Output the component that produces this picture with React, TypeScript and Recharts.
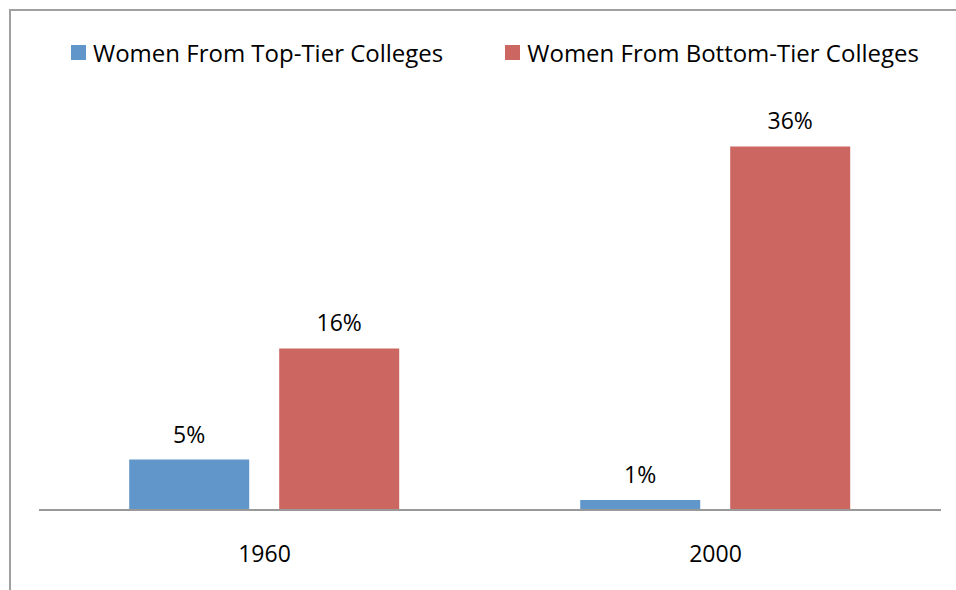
import { BarChart, Bar, XAxis, YAxis, Legend, LabelList } from "recharts";

const YEARS = ["1960", "2000"];
const TOP_TIER = [5, 1];
const BOTTOM_TIER = [16, 36];
const SERIES = [
  { key: "top", name: "Women From Top-Tier Colleges", color: "#6096CA" },
  { key: "bottom", name: "Women From Bottom-Tier Colleges", color: "#CC6660" },
];

const data = YEARS.map((y, i) => ({ year: y, top: TOP_TIER[i], bottom: BOTTOM_TIER[i] }));

const FONT = "'Open Sans', sans-serif";

function LegendBox() {
  return (
    <div style={{ display: "flex", alignItems: "center", paddingLeft: 71, fontFamily: FONT, fontSize: 24, color: "#000" }}>
      {SERIES.map((s, i) => (
        <div key={s.key} style={{ display: "flex", alignItems: "center", marginRight: i === 0 ? 62 : 0 }}>
          <span style={{ display: "inline-block", width: 15, height: 15, background: s.color, marginRight: 7 }} />
          <span style={{ whiteSpace: "nowrap" }}>{s.name}</span>
        </div>
      ))}
    </div>
  );
}

export default function App() {
  return (
    <div style={{ position: "absolute", left: 0, top: 0, width: 956, height: 590, overflow: "hidden", background: "#fff" }}>
      <div style={{ position: "absolute", left: 9, top: 9, width: 1200, height: 1200, borderLeft: "2px solid #a0a0a0", borderTop: "2px solid #a0a0a0" }} />
      <BarChart
        width={956}
        height={590}
        data={data}
        margin={{ top: 106, right: 15, bottom: 50, left: 39 }}
        barCategoryGap="20%"
        barGap={30}
        style={{ position: "absolute", left: 0, top: 0 }}
      >
        <XAxis
          dataKey="year"
          height={30}
          axisLine={{ stroke: "#999", strokeWidth: 2 }}
          tickLine={false}
          tickSize={0}
          tickMargin={36}
          tick={{ fill: "#000", fontSize: 23, fontFamily: FONT }}
        />
        <YAxis hide domain={[0, 40]} />
        <Legend
          verticalAlign="middle"
          align="center"
          layout="horizontal"
          content={() => <LegendBox />}
          wrapperStyle={{ top: 36, left: 0, width: 956 }}
        />
        {SERIES.map((s) => (
          <Bar key={s.key} dataKey={s.key} name={s.name} fill={s.color} isAnimationActive={false}>
            <LabelList
              dataKey={s.key}
              position="top"
              offset={17}
              formatter={(v: any) => `${v}%`}
              style={{ fill: "#000", fontSize: 23, fontFamily: FONT }}
            />
          </Bar>
        ))}
      </BarChart>
    </div>
  );
}
